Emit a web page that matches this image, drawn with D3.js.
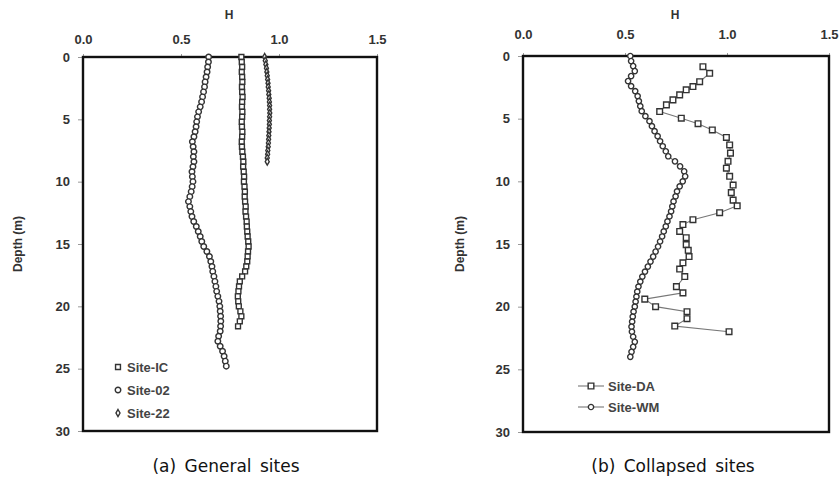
<!DOCTYPE html>
<html>
<head>
<meta charset="utf-8">
<script src="https://cdn.jsdelivr.net/npm/d3@7"></script>
<style>
  body { margin: 0; background: #fff; }
  svg { display: block; }
  .tick text { font-family: "Liberation Sans", Arial, sans-serif; font-weight: bold; font-size: 13px; fill: #333; }
  .tick line { stroke: #999; }
</style>
</head>
<body>
<svg id="chart" width="839" height="479"></svg>
<script>
// depth (m) and H values
var icDepth = [0,0.4,0.8,1.2,1.6,2,2.4,2.8,3.2,3.6,4,4.4,4.8,5.2,5.6,6,6.4,6.8,7.2,7.6,8,8.4,8.8,9.2,9.6,10,10.4,10.8,11.2,11.6,12,12.4,12.8,13.2,13.6,14,14.4,14.8,15.2,15.6,16,16.4,16.8,17.2,17.6,18,18.4,18.8,19.2,19.6,20,20.4,20.8,21.2,21.6]
var icH = [0.808,0.810,0.812,0.810,0.812,0.813,0.811,0.812,0.814,0.812,0.811,0.813,0.812,0.810,0.811,0.813,0.812,0.810,0.811,0.813,0.816,0.818,0.817,0.820,0.822,0.821,0.824,0.826,0.825,0.827,0.830,0.829,0.832,0.835,0.836,0.838,0.840,0.843,0.845,0.842,0.840,0.838,0.833,0.827,0.812,0.800,0.796,0.793,0.790,0.792,0.795,0.803,0.808,0.800,0.791]

var s02Depth = [0,0.4,0.8,1.2,1.6,2,2.4,2.8,3.2,3.6,4,4.4,4.8,5.2,5.6,6,6.4,6.8,7.2,7.6,8,8.4,8.8,9.2,9.6,10,10.4,10.8,11.2,11.6,12,12.4,12.8,13.2,13.6,14,14.4,14.8,15.2,15.6,16,16.4,16.8,17.2,17.6,18,18.4,18.8,19.2,19.6,20,20.4,20.8,21.2,21.6,22,22.4,22.8,23.2,23.6,24,24.4,24.8]
var s02H = [0.641,0.640,0.636,0.633,0.628,0.623,0.620,0.615,0.610,0.605,0.598,0.590,0.584,0.580,0.577,0.572,0.566,0.558,0.562,0.566,0.563,0.566,0.561,0.556,0.558,0.561,0.557,0.552,0.545,0.538,0.545,0.550,0.556,0.565,0.578,0.588,0.598,0.606,0.616,0.632,0.645,0.652,0.658,0.662,0.668,0.673,0.678,0.682,0.688,0.694,0.698,0.700,0.702,0.703,0.702,0.700,0.692,0.688,0.700,0.712,0.720,0.726,0.731]

var s22Depth = [0,0.3,0.6,0.9,1.2,1.5,1.8,2.1,2.4,2.7,3,3.3,3.6,3.9,4.2,4.5,4.8,5.1,5.4,5.7,6,6.3,6.6,6.9,7.2,7.5,7.8,8.1,8.4]
var s22H = [0.927,0.930,0.933,0.936,0.938,0.940,0.942,0.944,0.945,0.947,0.948,0.950,0.951,0.952,0.952,0.953,0.952,0.951,0.951,0.950,0.949,0.948,0.947,0.946,0.945,0.943,0.942,0.940,0.940]

var daDepth = [0.85,1.38,2.05,2.44,2.7,3.1,3.5,3.9,4.43,4.96,5.4,5.9,6.5,7.1,7.75,8.4,8.95,9.6,10.3,10.9,11.5,11.95,12.5,13.06,13.45,14,14.5,15.05,15.5,16,16.5,17,17.6,18.4,18.9,19.4,20,20.4,20.96,21.55,22]
var daH = [0.882,0.915,0.866,0.833,0.800,0.768,0.735,0.703,0.670,0.776,0.858,0.928,0.997,1.013,1.017,1.005,0.997,1.013,1.030,1.021,1.030,1.050,0.964,0.833,0.784,0.768,0.800,0.800,0.810,0.814,0.784,0.768,0.793,0.752,0.784,0.597,0.650,0.804,0.804,0.744,1.010]

var wmDepth = [0,0.4,0.8,1.2,1.6,2,2.4,2.8,3.2,3.6,4,4.4,4.8,5.2,5.6,6,6.4,6.8,7.2,7.6,8,8.4,8.8,9.2,9.6,10,10.4,10.8,11.2,11.6,12,12.4,12.8,13.2,13.6,14,14.4,14.8,15.2,15.6,16,16.4,16.8,17.2,17.6,18,18.4,18.8,19.2,19.6,20,20.4,20.8,21.2,21.6,22,22.4,22.8,23.2,23.6,24]
var wmH = [0.526,0.530,0.540,0.548,0.530,0.515,0.530,0.550,0.562,0.568,0.575,0.582,0.600,0.620,0.632,0.645,0.660,0.672,0.685,0.700,0.712,0.745,0.770,0.790,0.795,0.783,0.768,0.755,0.748,0.738,0.732,0.726,0.718,0.708,0.700,0.690,0.682,0.672,0.662,0.650,0.638,0.625,0.612,0.598,0.585,0.575,0.566,0.560,0.556,0.552,0.548,0.542,0.538,0.535,0.532,0.534,0.540,0.548,0.540,0.532,0.526]

var hTicks = [0, 0.5, 1.0, 1.5]
var depthTicks = [0, 5, 10, 15, 20, 25, 30]

function zip(depth, h) {
  return depth.map(function(d, i) { return {d: d, h: h[i]} })
}

var svg = d3.select('#chart')

function panel(cfg) {
  var x = d3.scaleLinear().domain([0, 1.5]).range([cfg.left, cfg.right])
  var y = d3.scaleLinear().domain([0, 30]).range([cfg.top, cfg.bottom])
  var g = svg.append('g')

  g.append('g').attr('transform', 'translate(0,' + cfg.top + ')')
    .call(d3.axisTop(x).tickValues(hTicks).tickFormat(d3.format('.1f')).tickSize(3).tickPadding(cfg.xPad))
    .call(function(a) { a.select('.domain').remove() })

  g.append('g').attr('transform', 'translate(' + cfg.left + ',0)')
    .call(d3.axisLeft(y).tickValues(depthTicks).tickFormat(d3.format('d')).tickSize(5).tickPadding(8))
    .call(function(a) { a.select('.domain').remove() })

  g.append('text').attr('x', (cfg.left + cfg.right) / 2 - 1).attr('y', 19)
    .attr('text-anchor', 'middle')
    .style('font', 'bold 12px "Liberation Sans", Arial, sans-serif').style('fill', '#333')
    .text('H')

  g.append('text')
    .attr('transform', 'translate(' + cfg.ylabX + ',' + (cfg.top + cfg.bottom) / 2 + ') rotate(-90)')
    .attr('text-anchor', 'middle')
    .style('font', 'bold 12px "Liberation Sans", Arial, sans-serif').style('fill', '#333')
    .text('Depth (m)')

  g.append('rect').attr('x', cfg.left).attr('y', cfg.top)
    .attr('width', cfg.right - cfg.left).attr('height', cfg.bottom - cfg.top)
    .attr('fill', 'none').attr('stroke', '#111').attr('stroke-width', 2.4)

  cfg.series.forEach(function(s) {
    var pts = zip(s.depth, s.h)
    if (s.line) {
      g.append('path').datum(pts)
        .attr('fill', 'none').attr('stroke', '#777').attr('stroke-width', 1.1)
        .attr('d', d3.line().x(function(p) { return x(p.h) }).y(function(p) { return y(p.d) }))
    }
    g.selectAll(null).data(pts).enter().append('path')
      .attr('transform', function(p) { return 'translate(' + x(p.h) + ',' + y(p.d) + ')' })
      .attr('d', d3.symbol().type(s.symbol).size(s.size))
      .attr('fill', '#fff').attr('stroke', '#333').attr('stroke-width', 1.4)
  })

  // legend
  cfg.series.forEach(function(s, i) {
    var ly = cfg.legY + i * cfg.legStep
    if (s.line) {
      g.append('line').attr('x1', cfg.legX - 13).attr('x2', cfg.legX + 13)
        .attr('y1', ly).attr('y2', ly).attr('stroke', '#777').attr('stroke-width', 1.1)
    }
    g.append('path').attr('transform', 'translate(' + cfg.legX + ',' + ly + ')')
      .attr('d', d3.symbol().type(s.symbol).size(s.size))
      .attr('fill', '#fff').attr('stroke', '#333').attr('stroke-width', 1.4)
    g.append('text').attr('x', cfg.legX + cfg.legText).attr('y', ly + 4.5)
      .style('font', 'bold 13px "Liberation Sans", Arial, sans-serif').style('fill', '#444')
      .text(s.name)
  })

  g.append('text').attr('x', cfg.capX).attr('y', 472)
    .attr('text-anchor', 'middle')
    .style('font', '17px "DejaVu Sans", sans-serif').style('fill', '#111').style('word-spacing', '3px')
    .text(cfg.caption)
}

panel({
  left: 83, right: 377, top: 57, bottom: 431, xPad: 10, ylabX: 22,
  legX: 118, legY: 367, legStep: 23, legText: 9,
  capX: 226, caption: '(a) General sites',
  series: [
    {name: 'Site-IC', depth: icDepth, h: icH, symbol: d3.symbolSquare, size: 24},
    {name: 'Site-02', depth: s02Depth, h: s02H, symbol: d3.symbolCircle, size: 24},
    {name: 'Site-22', depth: s22Depth, h: s22H, symbol: d3.symbolDiamond, size: 14}
  ]
})

panel({
  left: 523, right: 829, top: 56, bottom: 432, xPad: 14, ylabX: 464,
  legX: 591, legY: 386, legStep: 21, legText: 17,
  capX: 673, caption: '(b) Collapsed sites',
  series: [
    {name: 'Site-DA', depth: daDepth, h: daH, symbol: d3.symbolSquare, size: 32, line: true},
    {name: 'Site-WM', depth: wmDepth, h: wmH, symbol: d3.symbolCircle, size: 22, line: true}
  ]
})
</script>
</body>
</html>
